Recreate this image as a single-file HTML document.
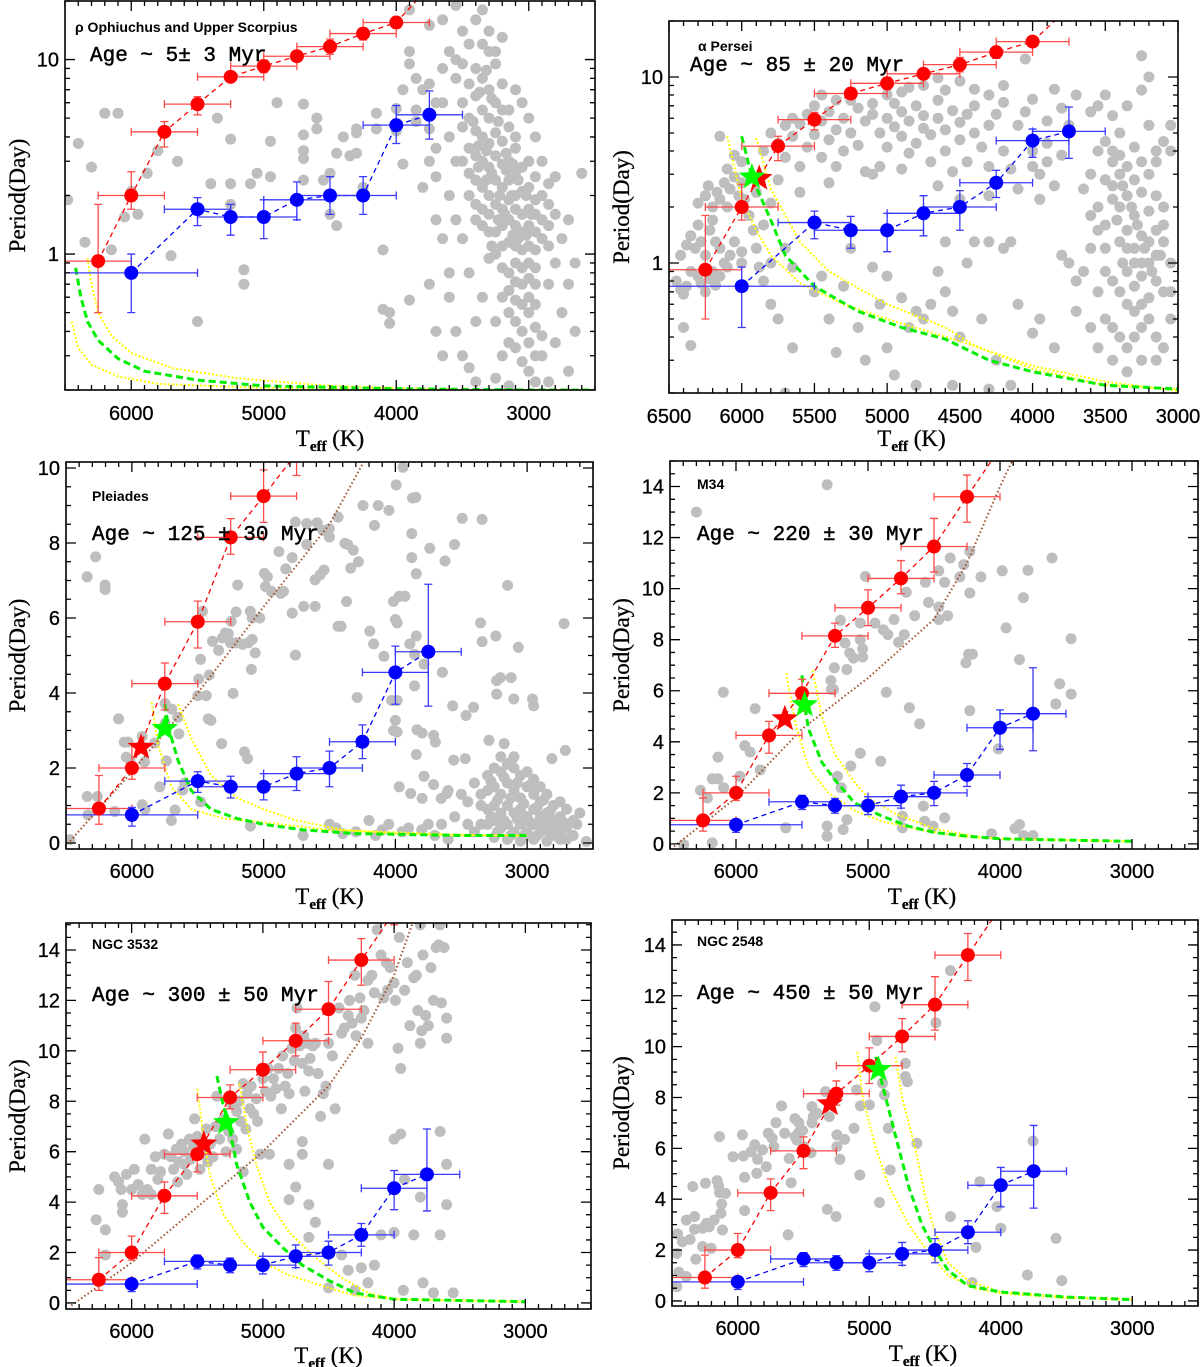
<!DOCTYPE html>
<html><head><meta charset="utf-8"><style>
html,body{margin:0;padding:0;background:#fff}
svg{display:block}
text{font-family:"Liberation Sans",sans-serif;fill:#000}
.tl{font-size:20px;stroke:#000;stroke-width:0.3}
.ttl{font-family:"Liberation Serif",serif;font-size:23px;stroke:#000;stroke-width:0.3}
.nm{font-size:14px;font-weight:bold}
.age{font-family:"Liberation Mono",monospace;font-size:21px;stroke:#000;stroke-width:0.5}
</style></head><body>
<svg id="fig" width="1200" height="1367" viewBox="0 0 1200 1367" xmlns="http://www.w3.org/2000/svg"></svg>
<script>
// ---- shared binned data ----
const redT=[6250,6000,5750,5500,5250,5000,4750,4500,4250,4000];
const redP=[0.92,2.0,4.25,5.9,8.15,9.25,10.4,11.65,13.6,15.5];
const redLo=[0.5,1.7,3.55,5.2,7.7,8.55,9.8,10.65,12.6,15.0];
const redHi=[1.8,2.65,4.8,6.45,8.65,9.95,11.1,12.75,14.45,16.1];
const redXerr=[250,250,250,250,250,250,250,250,250,250];
const blueT=[6000,5500,5250,5000,4750,4500,4250,4000,3750];
const blueP=[0.75,1.65,1.5,1.5,1.85,2.0,2.7,4.55,5.1];
const blueLo=[0.45,1.35,1.2,1.15,1.4,1.5,2.25,3.7,3.65];
const blueHi=[0.95,1.9,1.78,1.85,2.3,2.45,3.15,5.25,6.9];
const blueP1=[0.8,1.7,1.55,1.55,1.9,2.0,2.0,4.6,5.2];
const blueLo1=[0.5,1.4,1.25,1.2,1.5,1.6,1.6,3.7,3.9];
const blueHi1=[1.0,1.95,1.8,1.9,2.35,2.5,2.5,5.8,6.9];
const blueXerr=[500,250,250,250,250,250,250,250,250];
// ---- gray stars per panel [Teff,Period] ----
const gray1=[[6480,1.9],[6350,1.15],[6400,3.7],[6300,2.8],[6200,5.3],[6100,5.3],[6000,2.1],[6150,1.05],[6050,1.55],[5950,1.6],[5880,2.6],[5800,3.4],[5700,0.98],[5650,3.0],[5500,0.45],[5400,2.3],[5350,5.0],[5250,1.8],[5250,2.3],[5250,3.9],[5150,0.83],[5150,0.7],[5100,2.3],[5050,2.6],[4950,2.5],[4950,3.8],[4900,6.0],[4700,5.9],[4700,4.1],[4700,3.4],[4700,3.1],[4700,2.4],[4600,4.4],[4600,5.0],[4550,2.4],[4500,2.6],[4500,1.6],[4450,1.4],[4400,4.0],[4450,3.3],[4350,3.2],[4300,4.2],[4300,3.3],[4300,4.4],[4250,2.2],[4150,5.3],[4150,4.4],[4100,1.05],[4100,0.52],[4050,0.5],[4050,0.44],[4000,5.6],[4000,4.3],[3950,2.9],[3900,0.58],[3850,4.8],[3900,11],[3900,9.5],[3800,2.2],[3750,4.4],[3700,3.5],
[3500,14],[3450,12],[3400,16],[3350,18],[3300,11],[3400,9],[3350,8],[3450,7.5],[3300,7],[3250,9.5],[3500,6],[3400,6.5],[3350,5.5],[3300,5],[3250,6],[3200,5.5],[3450,5],[3500,4.5],[3400,4.3],[3350,4],[3300,3.7],[3250,4.2],[3200,3.8],[3150,4.5],[3450,3.5],[3400,3.2],[3350,3],[3300,2.8],[3250,3.2],[3200,2.9],[3150,3],[3100,3.5],[3500,3],[3450,2.6],[3400,2.4],[3350,2.2],[3300,2],[3250,2.4],[3200,2.2],[3150,2.4],[3100,2.6],[3050,2.8],[3000,3],[2950,2.5],[3450,2],[3400,1.8],[3350,1.7],[3300,1.6],[3250,1.8],[3200,1.7],[3150,1.9],[3100,2],[3050,2.1],[3000,2.2],[2950,1.9],[2900,2],[2850,1.8],[3100,1.7],[3050,1.6],[3000,1.7],[2950,1.6],[2900,1.5],[2850,1.4],[3000,1.4],[2950,1.3],[3050,1.3],[3100,1.4],[3150,1.5],[3200,1.4],[3250,1.3],[3300,1.3],[3350,1.4],[3400,1.5],[3200,1.1],[3150,1.15],[3100,1.1],[3050,1.05],[3000,1.1],[2950,1.05],[2900,1.2],[3250,1.0],[3300,0.95],[3100,0.9],[3050,0.85],[3000,0.9],[2950,0.85],[3150,0.8],[3200,0.85],[3000,0.75],[3050,0.7],[3100,0.72],[2950,0.7],[3150,0.65],[3000,0.6],[3100,0.58],[3050,0.55],[2950,0.55],[3200,0.6],[3000,0.5],[3100,0.45],[2950,0.42],[3050,0.4],[3150,0.5],[3000,0.35],[3100,0.33],[2900,0.38],[3050,0.28],[3000,0.25],[2950,0.3],[3150,0.35],[3250,0.45],[3200,0.3],[3350,0.6],[3400,0.45],[3450,0.8],[3500,1.2],[3550,1.5],[3600,2],[3550,3],[3600,4],[3550,8],[3500,9.5],[3600,11],[3550,10],[3650,6],[3700,2.5],[3650,1.2],[3700,0.4],[3750,0.7],[3600,0.6],[3650,0.3],[2800,1.6],[2850,2.3],[2800,2.5],[2750,1.2],[2700,1.5],[2650,0.9],[2600,2.6],[2800,0.9],[2750,0.5],[2850,0.7],[2900,3],[2950,4],[3000,5],[3050,6],[3100,7],[3150,5.5],[3200,7.5],[3250,11],[3300,14],[3350,12],[3200,13],[3100,4],[2900,0.3],[2800,0.35],[2700,0.25],[2650,0.4],[3850,8],[3800,7],[3750,7.5],[3700,6],[3650,9],[3750,15],[3650,16],[3900,18],[3550,19],[3750,3],[3850,5.5],[3950,7],[3700,1.5],[3600,0.8],[3550,0.4],[3500,0.3],[3450,0.26],[3400,0.22],[3250,0.23],[3150,0.21],[2850,1.1],[2700,0.7],[2950,0.22],[2850,0.22],
[3380,3.6],[3320,3.4],[3280,2.6],[3220,2.0],[3180,1.6],[3120,1.25],[3080,1.2],[3020,1.25],[2980,1.6],[3020,2.0],[3080,2.4],[3130,2.0],[3170,2.7],[3230,1.5],[3280,1.1],[3320,2.4],[3380,2.8],[3420,4.8],[3370,6.8],[3320,8.8],[3280,6.3],[3230,4.8],[3170,3.3],[3120,2.9]];
const gray2=[[6450,0.8],[6420,0.72],[6400,0.68],[6380,0.75],[6350,0.9],[6300,0.85],[6280,0.78],[6250,0.7],[6220,0.82],[6200,0.9],[6180,0.76],[6150,0.85],[6400,0.45],[6350,0.36],[6420,1.1],[6380,1.25],[6350,1.4],[6320,1.2],[6300,1.6],[6280,1.3],[6250,1.1],[6220,1.5],[6200,1.7],[6180,1.3],[6150,1.2],[6120,1.0],[6100,0.95],[6080,1.1],[6050,1.3],[6300,2.1],[6250,2.3],[6230,2.6],[6200,2.0],[6170,2.4],[6150,2.2],[6120,2.7],[6100,2.0],[6080,2.5],[6050,2.9],[6020,2.3],[6000,3.5],[6050,3.8],[6150,4.8],[6100,3.2],[6000,2.7],[5980,2.2],[5950,1.8],[5920,1.5],[5900,1.2],[5880,0.95],[5850,0.8],[5800,1.0],[5700,1.2],[5650,0.95],[5850,1.6],[5800,2.1],[5900,2.4],[6000,1.15],[6000,1.0],
[5850,4.0],[5800,5.0],[5750,4.4],[5700,5.5],[5700,3.7],[5650,6.0],[5650,4.8],[5600,3.3],[5600,5.6],[5550,4.2],[5550,6.3],[5500,7.0],[5500,4.9],[5450,5.8],[5450,3.7],[5400,6.5],[5400,4.6],[5350,5.2],[5350,3.3],[5300,6.0],[5300,4.0],[5250,7.5],[5250,5.0],[5200,6.8],[5200,4.3],[5150,5.8],[5150,3.1],[5100,6.3],[5100,7.2],[5050,5.0],[5050,3.3],[5000,6.0],[5000,4.2],[4950,7.2],[4950,5.4],[4900,4.8],[4900,6.5],[4850,5.8],[4850,3.9],[4800,7.0],[4800,4.4],[4750,5.3],[4750,6.2],[4700,4.9],[4700,3.5],[4650,6.0],[4650,7.5],[4600,5.2],[4600,4.0],[4550,6.6],[4550,3.1],[4500,5.7],[4500,4.6],[4450,6.3],[4450,3.5],[4400,5.0],[4400,7.0],[4350,4.2],[4300,5.5],[4300,3.3],[4250,6.3],[4200,4.0],[4200,7.3],[4150,3.2],[4100,5.5],[4050,6.5],[4000,4.0],[4000,7.6],[3950,3.0],[3900,5.8],[3900,3.5],[3850,2.6],[3800,6.8],[3800,3.8],[5000,8.0],[4900,8.3],[4750,9.0],[4600,8.5],[4500,9.5],[4300,8.0],[4200,9.0],[4050,12.5],[5100,3.0],[4900,3.2],[4650,2.6],[4500,2.2],[4300,2.3],[4100,2.5],[3950,2.2],[5400,2.7],[5600,2.4],[5750,2.8],[5450,8.0],[5350,7.5],[4850,8.8],[4650,9.9],[4400,8.6],[4000,3.3],[3900,4.4],[3850,8.6],[3700,8.0],[3600,6.5],[3750,5.5],[3550,7.0],[3500,8.0],
[5800,0.6],[5750,0.5],[5650,0.35],[5500,0.7],[5450,0.85],[5400,0.5],[5350,0.33],[5300,0.75],[5200,0.45],[5150,0.3],[5100,0.95],[5050,0.6],[5000,0.85],[4900,0.65],[4850,0.45],[4800,0.55],[4750,0.5],[4700,0.6],[4650,0.9],[4600,0.7],[4550,0.55],[4500,0.4],[4450,1.0],[4400,1.3],[4350,0.5],[4300,1.3],[4250,0.3],[4200,1.2],[4150,1.3],[4100,0.6],[4000,0.42],[3950,0.5],[3850,0.35],[3800,1.1],[3750,1.0],[3700,0.8],[3700,0.55],[3650,0.9],[3600,0.45],[4950,0.25],[4800,0.22],[4550,0.22],[4300,0.21],[4150,0.22],[5000,0.35],[5700,0.2],[4600,1.3],[5250,1.2],
[3500,4.5],[3450,4.0],[3450,3.5],[3400,3.8],[3400,3.0],[3380,2.6],[3350,3.3],[3350,2.3],[3320,2.0],[3300,2.8],[3300,1.8],[3280,1.6],[3250,2.4],[3250,1.4],[3230,1.2],[3200,1.9],[3200,1.0],[3180,0.9],[3150,1.5],[3150,0.8],[3120,1.1],[3100,0.7],[3100,1.3],[3300,1.2],[3350,1.5],[3380,1.0],[3420,1.7],[3450,2.2],[3400,1.3],[3350,0.9],[3300,0.75],[3250,0.85],[3200,0.65],[3250,0.6],[3300,0.55],[3350,0.6],[3400,0.7],[3450,0.8],[3500,1.2],[3500,0.5],[3450,0.45],[3400,0.4],[3350,0.35],[3300,0.4],[3250,0.45],[3200,0.5],[3150,0.4],[3100,0.35],[3050,0.5],[3150,0.3],[3250,0.3],[3350,0.26],[3450,0.3],[3550,0.35],[3500,2.8],[3550,2.0],[3550,1.5],[3600,1.2],[3600,1.8],[3400,5.0],[3300,4.2],[3250,3.5],[3200,3.0],[3150,2.3],[3100,2.0],[3050,1.0],[3050,0.7],[3200,5.5],[3150,4.0],[3100,4.5],[3250,8.5],[3200,10],[3250,13],[3150,3.5],[3350,7.0],[3450,6.2],[3550,4.0],[3600,3.0],[3650,2.5],[3050,4.0],[3050,5.5],[3100,1.6],[3150,1.1],[3200,1.3],[3250,1.0],[3300,1.0],[3350,1.2],[3400,2.0],[3450,2.6],[3500,1.6],[3500,0.9],[3550,0.7]];
const gray3=[[6339,7.1],[6275,7.63],[6203,6.88],[6203,6.76],[6470,0.09],[6333,0.75],[6339,1.24],[6261,1.24],[6130,0.84],[6101,3.31],[6058,2.69],[6029,2.69],[6043,2.29],[6014,2.21],[5922,2.84],[5922,1.02],[5904,2.16],[5826,2.67],[5788,1.5],[5748,3.72],[5748,3.19],[5739,2.19],[5696,3.57],[5652,3.35],[5643,2.91],[5672,0.88],[5614,1.41],[5478,1.1],[5464,6.18],[5478,4.9],[5435,3.93],[5499,3.93],[5493,4.37],[5412,4.48],[5420,3.31],[5400,3.27],[5388,5.38],[5342,5.14],[5319,2.65],[5313,5.47],[5290,5.6],[5267,5.58],[5246,5.91],[5232,3.99],[5252,5.34],[5209,6.16],[5209,5.34],[5197,6.88],[5159,5.3],[5145,2.43],[5122,2.25],[5116,5.34],[5101,6.18],[5087,6.0],[5087,5.43],[5093,4.63],[5064,5.07],[5029,6.0],[4994,7.19],[4971,7.1],[4986,6.84],[4942,6.71],[4884,7.77],[4870,6.66],[4849,6.71],[4832,7.31],[4783,7.61],[4759,8.56],[4783,6.13],[4759,5.01],[4696,6.31],[4672,8.52],[4672,7.96],[4609,6.31],[4594,8.54],[4609,7.02],[4571,7.15],[4542,7.28],[4551,8.34],[4501,8.38],[4501,8.16],[4435,8.69],[4412,5.78],[4362,7.96],[4339,7.33],[4319,7.81],[4281,7.5],[4246,9.0],[4159,8.47],[4130,9.0],[4049,8.87],[3994,9.55],[3942,10.02],[3870,9.2],[3875,8.25],[3875,7.61],[3846,9.22],[3841,7.18],[3739,7.86],[3623,7.52],[3551,7.96],[3493,8.66],[3342,8.63],[3971,6.58],[4014,6.44],[4000,5.96],[3986,5.87],[3928,6.58],[3841,5.52],[3890,5.31],[3855,5.03],[3855,4.19],[3783,4.77],[4194,5.65],[4165,5.31],[4087,4.98],[4290,3.88],[4371,6.44],[4435,5.78],[4383,7.99],[4029,3.8],[3986,3.8],[4000,3.27],[3986,2.96],[4014,3.0],[3836,3.02],[3797,2.93],[3710,2.87],[3696,2.69],[3841,2.36],[3971,1.5],[3884,1.32],[3797,1.19],[3783,1.78],[3710,1.56],[3652,1.19],[3609,1.32],[3643,4.55],[3565,3.66],[3464,3.4],[3406,3.62],[3557,2.21],[3470,2.25],[3354,5.87],[3342,5.37],[3238,5.52],[3232,4.33],[3232,3.97],[3203,4.41],[3122,4.41],[3101,3.84],[3067,5.22],[3148,6.87],[2959,3.84],[2951,3.66],[2812,2.25],[2719,5.85],[2710,2.47],[2623,0.5],[2551,0.04],[3290,2.74],[3174,2.65],[3122,2.16],
[3300,1.8],[3250,2.0],[3200,1.9],[3150,2.1],[3100,2.0],[3050,1.8],[3000,1.9],[2950,1.7],[2900,1.5],[3300,1.4],[3250,1.5],[3200,1.3],[3150,1.6],[3100,1.4],[3050,1.2],[3000,1.5],[2950,1.3],[2900,1.1],[2850,1.3],[2800,1.0],[2750,1.1],[3350,1.0],[3300,0.9],[3250,1.0],[3200,0.8],[3150,1.0],[3100,0.8],[3050,0.9],[3000,0.7],[2950,0.9],[2900,0.7],[2850,0.8],[2800,0.6],[2750,0.7],[2700,0.9],[2650,0.6],[3300,0.5],[3250,0.6],[3200,0.4],[3150,0.5],[3100,0.3],[3050,0.5],[3000,0.3],[2950,0.5],[2900,0.3],[2850,0.4],[2800,0.2],[2750,0.3],[2700,0.4],[2650,0.2],[3250,0.15],[3150,0.1],[3050,0.05],[2950,0.1],[2850,0.05],[2750,0.1],[3400,0.3],[3350,0.5],[3450,1.1],[3400,1.6],[3200,2.3],[3100,2.3],[2600,0.8],[2700,0.1],[3500,1.3],[3450,0.5],[3550,0.7],[3350,1.3],[3600,1.4],
[3275,1.65],[3175,1.75],[3075,1.6],[2975,1.55],[2875,1.15],[3225,1.15],[3125,1.2],[3025,1.05],[2925,0.95],[2825,0.85],[3275,0.7],[3175,0.6],[3075,0.65],[2975,0.55],[2875,0.55],[2775,0.45],[3225,0.3],[3125,0.2],[3025,0.2],[2925,0.2],[2825,0.25],[2725,0.55],
[4700,0.2],[4500,0.5],[4450,0.4],[4300,0.3],[4200,0.6],[4100,0.35],[4050,0.5],[3950,0.3],[3900,0.4],[3800,0.35],[3750,0.5],[3650,0.5],[4400,0.25],[4150,0.2],[3700,0.2],[3600,0.1],[5900,0.9],[5700,0.6],[5600,1.6],[5100,0.45]];
const gray4=[[6300,13],[5310,14.07],[6096,5.94],[5855,5.3],[5933,3.85],[5893,3.6],[5817,2.9],[6136,3.4],[6180,2.55],[6136,2.55],[6093,2.2],[6270,2.1],[6217,1.8],[5971,2.65],[6180,0.04],[6397,-0.03],[5623,0.63],[5310,0.7],[5310,0.3],[5188,0.56],[5160,0.95],[5203,2.2],[5232,2.65],[5130,3.05],[5058,3.55],[4904,3.24],[5278,6.05],[5281,6.4],[5255,6.9],[5160,6.83],[5261,6.05],[5174,7.87],[5139,7.48],[5110,7.28],[5058,8.0],[5041,7.64],[5041,7.32],[5058,8.65],[5209,8.76],[5020,10.48],[4948,8.65],[4884,8.39],[4849,8.2],[4803,8.79],[4768,7.9],[4725,8.2],[4710,9.86],[4646,8.94],[4542,9.46],[4464,9.28],[4464,8.79],[4397,8.94],[4565,10.25],[4464,10.7],[4420,10.25],[4377,11.2],[4275,10.94],[4304,10.46],[4229,11.46],[4229,9.83],[4145,10.46],[4258,7.09],[4238,7.43],[4209,7.43],[4229,5.22],[4687,5.33],[4609,4.7],[4861,5.94],[4580,1.48],[4571,0.89],[4420,1.02],[4507,0.69],[4739,1.08],[4739,0.63],[4064,0.4],[4012,3.72],[3983,10.7],[3954,8.46],[3852,7.22],[3823,9.65],[3788,10.72],[3606,11.2],[3548,6.27],[3577,5.48],[3461,5.87],[3461,8.04],[3887,0.6],[3852,0.76],[3823,0.33],[3751,0.33]];
const gray5=[[6270,3.3],[6250,4.5],[6200,2.9],[6200,1.9],[6130,5.0],[6100,4.8],[6080,4.5],[6070,3.9],[6070,3.6],[6040,5.1],[6000,4.5],[5980,5.3],[5950,4.7],[5920,4.3],[5900,6.5],[5880,4.5],[5850,5.3],[5850,4.3],[5820,5.8],[5800,4.9],[5780,5.2],[5760,4.3],[5750,5.9],[5720,6.7],[5700,5.8],[5680,5.3],[5660,6.1],[5650,4.8],[5640,5.6],[5620,6.3],[5600,5.5],[5600,6.0],[5580,5.1],[5560,6.5],[5550,5.7],[5530,6.2],[5520,7.3],[5500,6.6],[5480,5.3],[5470,5.9],[5450,6.1],[5430,6.9],[5420,5.6],[5400,6.3],[5380,5.8],[5360,7.0],[5350,8.2],[5330,6.5],[5300,7.3],[5280,6.0],[5260,6.8],[5240,7.9],[5230,6.5],[5200,7.6],[5180,8.0],[5170,7.2],[5150,8.7],[5130,6.9],[5120,8.3],[5100,7.7],[5090,8.6],[5070,7.5],[5050,8.1],[5040,7.2],[5020,5.9],[5000,8.9],[4980,8.4],[4960,9.3],[4940,8.2],[4920,8.9],[4900,8.5],[4880,9.3],[4860,7.7],[4850,9.8],[4830,8.6],[4810,9.1],[4800,8.3],[4780,10.1],[4760,9.6],[4750,10.9],[4740,11.7],[4720,10.2],[4700,9.5],[4690,10.6],[4680,8.4],[4660,10.3],[4650,9.2],[4640,9.7],[4620,10.2],[4600,10.3],[4580,9.1],[4560,7.4],[4540,8.3],[4520,8.6],[4500,10.3],[4500,5.5],[4470,9.8],[4450,7.7],[4420,11.7],[4400,10.7],[4380,10.9],[4350,11.4],[4340,12.0],[4320,11.1],[4300,13.0],[4290,10.6],[4260,12.1],[4250,11.3],[4230,11.6],[4200,10.3],[4200,12.8],[4170,13.0],[4150,12.3],[4130,14.8],[4100,13.8],[4080,12.1],[4060,13.5],[4050,12.4],[4030,13.3],[4000,12.7],[3990,12.0],[3970,10.1],[3960,14.5],[3950,9.3],[3920,12.4],[3900,13.5],[3880,11.0],[3850,12.9],[3830,13.0],[3820,11.6],[3800,10.3],[3790,10.8],[3780,13.8],[3760,11.4],[3740,11.0],[3720,13.3],[3700,12.0],[3680,14.1],[3660,14.2],[3640,11.9],[3620,14.1],[3600,10.5],[3600,11.3],[3800,15.0],[3650,15.0],
[5200,6.1],[5150,5.2],[4950,5.9],[4800,5.5],[4750,4.6],[4700,6.4],[4700,5.9],[4800,4.1],[4650,3.9],[4600,3.2],[4650,2.6],[4350,1.3],[4300,0.5],[4250,1.4],[4400,1.9],[4500,0.6],[4200,0.8],[4150,1.5],[4000,2.8],[4100,2.7],[4000,6.5],[3950,6.7],[3850,2.7],[3800,4.2],[3780,0.8],[3700,0.4],[3650,6.8],[3650,2.7],[3600,3.9],[3600,5.5],[3550,0.4],[3930,0.5],[3920,4.9]];
const gray6=[[6458,2.63],[6449,1.13],[6464,0.56],[6391,3.18],[6362,2.42],[6342,4.5],[6328,3.32],[6328,2.82],[6319,1.64],[6267,2.14],[6246,4.63],[6238,3.05],[6267,2.86],[6217,2.92],[6203,2.07],[6180,3.18],[6139,6.46],[6157,4.73],[6145,4.52],[6139,4.26],[6093,4.23],[6122,3.81],[6128,3.45],[6116,2.79],[6035,5.67],[5965,6.53],[5957,5.7],[5948,4.86],[5948,3.55],[5899,5.87],[5870,6.14],[5855,5.02],[5849,5.57],[5812,5.94],[5783,5.28],[5768,6.59],[5739,6.4],[5725,6.07],[5710,7.01],[5667,7.67],[5643,6.59],[5617,2.6],[5594,4.65],[5609,5.6],[5565,7.17],[5565,6.46],[5536,7.01],[5551,6.33],[5536,6.62],[5507,6.7],[5499,6.07],[5443,5.83],[5435,7.64],[5426,7.25],[5435,7.01],[5397,7.38],[5333,8.23],[5319,3.6],[5304,7.25],[5252,3.32],[5246,6.53],[5246,6.07],[5223,5.57],[5188,6.35],[5116,6.79],[5096,8.3],[5072,4.95],[5067,7.67],[4999,7.71],[4957,11.57],[4942,10.24],[4922,3.87],[4899,8.56],[4884,8.1],[4855,6.79],[4841,5.15],[4725,9.34],[4725,8.82],[4710,8.62],[4638,6.2],[4493,10.94],[4383,12.99],[4383,3.32],[4188,2.11],[4217,0.72],[4159,4.69],[4029,3.71],[4000,2.86],[3797,1.02],[3754,6.29],[3580,2.46],[3536,0.8],[6464,1.87],[6391,0.96],[6420,2.33]];
// ---- model curves per panel ----
const green1=[[6420,0.85],[6380,0.6],[6330,0.45],[6250,0.36],[6100,0.29],[5900,0.25],[5500,0.225],[5000,0.21],[4000,0.203],[3000,0.2],[2500,0.2]];
const yelA1=[[6330,0.95],[6300,0.7],[6250,0.5],[6150,0.38],[6000,0.31],[5700,0.26],[5200,0.23],[4500,0.21],[3500,0.2],[2500,0.2]];
const yelB1=[[6450,0.45],[6400,0.33],[6300,0.27],[6100,0.235],[5800,0.215],[5000,0.205],[4000,0.2],[2500,0.2]];
const green2=[[6000,4.8],[5930,2.9],[5800,1.7],[5700,1.1],[5500,0.75],[5200,0.55],[4900,0.45],[4600,0.39],[4300,0.3],[4000,0.26],[3500,0.22],[3000,0.21]];
const yelA2=[[5900,4.7],[5800,2.5],[5600,1.3],[5400,0.9],[5000,0.6],[4600,0.45],[4400,0.36],[4000,0.27],[3500,0.22],[3000,0.21]];
const yelB2=[[6100,4.8],[6000,2.2],[5900,1.5],[5800,1.1],[5600,0.78],[5300,0.6],[5000,0.5],[4500,0.38],[4000,0.28],[3500,0.23],[3000,0.205]];
const green3=[[5750,3.7],[5720,3.05],[5650,2.2],[5550,1.4],[5400,0.9],[5200,0.65],[5000,0.5],[4700,0.35],[4300,0.25],[3500,0.2],[3000,0.2]];
const yelA3=[[5850,3.75],[5800,2.6],[5700,1.5],[5550,0.9],[5300,0.65],[5000,0.55],[4500,0.35],[3500,0.22],[3000,0.2]];
const yelB3=[[5650,3.7],[5550,2.8],[5400,1.8],[5200,1.2],[5000,0.9],[4750,0.6],[4400,0.35],[4000,0.25],[3500,0.2],[3000,0.2]];
const brown3=[[6470,0.05],[6000,1.9],[5500,4.0],[5000,6.3],[4500,8.5],[4250,10.1]];
const green4=[[5500,6.6],[5480,5.4],[5450,4.5],[5350,3.2],[5250,2.5],[5100,1.6],[4900,1.1],[4700,0.7],[4500,0.45],[4250,0.3],[4000,0.2],[3000,0.1]];
const yelA4=[[5620,6.7],[5550,4.7],[5450,3.0],[5300,2.0],[5100,1.3],[4900,0.9],[4600,0.55],[4300,0.3],[4000,0.2],[3000,0.1]];
const yelB4=[[5420,6.8],[5350,5.0],[5250,3.5],[5100,2.4],[5000,1.8],[4800,1.2],[4500,0.6],[4200,0.3],[4000,0.2],[3000,0.1]];
const brown4=[[6470,-0.1],[6000,1.8],[5500,4.5],[5000,6.5],[4500,8.8],[4250,11],[4000,14],[3890,15.2]];
const green5=[[5350,9.0],[5300,7.8],[5250,6.8],[5200,5.5],[5100,4.0],[5000,3.0],[4850,2.2],[4700,1.5],[4500,0.9],[4300,0.4],[4000,0.15],[3000,0.05]];
const yelA5=[[5500,8.5],[5450,6.5],[5400,5.0],[5300,3.5],[5150,2.4],[5000,1.6],[4800,1.1],[4500,0.6],[4300,0.3],[4000,0.15],[3000,0.05]];
const yelB5=[[5180,8.7],[5120,7.0],[5050,5.5],[4950,4.0],[4800,2.8],[4600,1.8],[4400,1.0],[4200,0.4],[4000,0.15],[3000,0.05]];
const brown5=[[6460,-0.1],[6000,1.6],[5500,3.8],[5000,6.0],[4500,8.6],[4250,10.5],[4000,13],[3850,15.2]];
const green6=[[4950,9.6],[4900,8.5],[4800,6.5],[4700,4.5],[4600,3.0],[4500,2.0],[4400,1.2],[4250,0.6],[4000,0.35],[3500,0.15],[3000,0.05]];
const yelA6=[[5090,9.8],[5050,8.0],[4950,6.0],[4850,4.5],[4700,3.0],[4550,1.9],[4400,1.0],[4200,0.5],[4000,0.3],[3500,0.12],[3000,0.05]];
const yelB6=[[4800,9.6],[4750,8.0],[4650,6.0],[4570,4.0],[4500,2.7],[4400,1.5],[4250,0.8],[4000,0.35],[3500,0.15],[3000,0.05]];
// stars [Teff,P]
const redStar=[null,[5880,2.85],[5930,2.55],[5630,4.9],[5450,6.3],[5300,7.75]];
const greenStar=[null,[5930,2.9],[5750,3.05],[5480,5.45],[5280,7.15],[4930,9.1]];
// tick labels
const xTicks1=[6000,5000,4000,3000];
const xTicks2=[6500,6000,5500,5000,4500,4000,3500,3000];
const yTicksLog=[1,10];
const yTicks3=[0,2,4,6,8,10];
const yTicks15=[0,2,4,6,8,10,12,14];

const NS='http://www.w3.org/2000/svg';
const svg=document.getElementById('fig');
function mk(tag,attrs,parent){const e=document.createElementNS(NS,tag);for(const k in attrs)e.setAttribute(k,attrs[k]);(parent||svg).appendChild(e);return e;}

const panels=[
 {name:'ρ Ophiuchus and Upper Scorpius',age:'Age ~ 5± 3 Myr',box:[65,1,595,390],xd:[6500,2500],yd:[0.2,20],log:true,xt:xTicks1,xmaj:1000,yt:yTicksLog,gray:gray1,green:green1,ya:yelA1,yb:yelB1,blue:[blueP1,blueLo1,blueHi1],nmPos:[75,32],agePos:[90,61],xl:420,xtitle:446},
 {name:'α Persei',age:'Age ~ 85 ± 20 Myr',box:[669,21,1178,393],xd:[6500,3000],yd:[0.2,20],log:true,xt:xTicks2,xmaj:500,yt:yTicksLog,gray:gray2,green:green2,ya:yelA2,yb:yelB2,nmPos:[698,51],agePos:[690,71],xl:423,xtitle:446},
 {name:'Pleiades',age:'Age ~ 125 ± 30 Myr',box:[66,462,593,849],xd:[6500,2500],yd:[-0.16,10.16],log:false,xt:xTicks1,xmaj:1000,yt:yTicks3,ymin:0.5,gray:gray3,green:green3,ya:yelA3,yb:yelB3,brown:brown3,nmPos:[92,501],agePos:[92,540],xl:878,xtitle:904},
 {name:'M34',age:'Age ~ 220 ± 30 Myr',box:[670,461,1198,849],xd:[6500,2500],yd:[-0.2,15],log:false,xt:xTicks1,xmaj:1000,yt:yTicks15,ymin:0.5,gray:gray4,green:green4,ya:yelA4,yb:yelB4,brown:brown4,nmPos:[697,489],agePos:[697,540],xl:878,xtitle:904},
 {name:'NGC 3532',age:'Age ~ 300 ± 50 Myr',box:[66,923,591,1309],xd:[6500,2500],yd:[-0.24,15.07],log:false,xt:xTicks1,xmaj:1000,yt:yTicks15,ymin:0.5,gray:gray5,green:green5,ya:yelA5,yb:yelB5,brown:brown5,nmPos:[92,949],agePos:[92,1001],xl:1338,xtitle:1363},
 {name:'NGC 2548',age:'Age ~ 450 ± 50 Myr',box:[672,920,1198,1306],xd:[6500,2500],yd:[-0.2,14.98],log:false,xt:xTicks1,xmaj:1000,yt:yTicks15,ymin:0.5,gray:gray6,green:green6,ya:yelA6,yb:yelB6,nmPos:[697,946],agePos:[697,999],xl:1335,xtitle:1361}
];

function star(g,cx,cy,R,fill){
  let pts=[];for(let i=0;i<10;i++){const r=i%2?R*0.42:R;const a=-Math.PI/2+i*Math.PI/5;pts.push((cx+r*Math.cos(a)).toFixed(1)+','+(cy+r*Math.sin(a)).toFixed(1));}
  return mk('polygon',{points:pts.join(' '),fill:fill},g);
}

panels.forEach((p,pi)=>{
  const [x0,y0,x1,y1]=p.box;
  const g=mk('g',{});
  
  
  const X=t=>x0+(p.xd[0]-t)/(p.xd[0]-p.xd[1])*(x1-x0);
  const Y=p.log?(v=>y1-(Math.log10(v)-Math.log10(p.yd[0]))/(Math.log10(p.yd[1])-Math.log10(p.yd[0]))*(y1-y0))
               :(v=>y1-(v-p.yd[0])/(p.yd[1]-p.yd[0])*(y1-y0));
  const cid='clip'+pi;
  const cp=mk('clipPath',{id:cid},g);mk('rect',{x:x0,y:y0,width:x1-x0,height:y1-y0},cp);
  const pl=mk('g',{'clip-path':'url(#'+cid+')'},g);
  
  
  const gg=mk('g',{fill:'#bebebe'},pl);
  
  
  p.gray.forEach(d=>{if(p.log&&d[1]<=0)return;const c=mk('circle',{cx:X(d[0]).toFixed(1),cy:Y(d[1]).toFixed(1),r:5.5},gg);
    
    });
  const pathOf=arr=>arr.filter(d=>!p.log||d[1]>0).map((d,i)=>(i?'L':'M')+X(d[0]).toFixed(1)+','+Y(d[1]).toFixed(1)).join(' ');
  if(p.brown){const b=mk('path',{d:pathOf(p.brown),fill:'none',stroke:'#a0522d','stroke-width':2,'stroke-dasharray':'1.5,2.5'},pl);
    
    }
  [p.ya,p.yb].forEach(a=>{const y=mk('path',{d:pathOf(a),fill:'none',stroke:'#ffff00','stroke-width':2,'stroke-dasharray':'2,2'},pl);
    
    });
  const gr=mk('path',{d:pathOf(p.green),fill:'none',stroke:'#00ee00','stroke-width':3,'stroke-dasharray':'7,4'},pl);
  
  
  const rl=redT.map((t,i)=>[t,redP[i]]);rl.push([3850,20]);
  const rline=mk('path',{d:pathOf(rl),fill:'none',stroke:'#ff0000','stroke-width':1.3,'stroke-dasharray':'5,4'},pl);
  
  
  const bP=p.blue?p.blue[0]:blueP,bLo=p.blue?p.blue[1]:blueLo,bHi=p.blue?p.blue[2]:blueHi;
  const bl=blueT.map((t,i)=>[t,bP[i]]);
  const bline=mk('path',{d:pathOf(bl),fill:'none',stroke:'#0000ff','stroke-width':1.3,'stroke-dasharray':'5,4'},pl);
  
  
  function errs(T,P,Lo,Hi,Xe,col,nm){
    T.forEach((t,i)=>{
      const cx=X(t),cy=Y(P[i]),xa=X(t+Xe[i]),xb=X(t-Xe[i]),ya=Y(Lo[i]),yb=Y(Hi[i]);
      const e=mk('path',{d:`M${xa},${cy}H${xb}M${xa},${cy-4}V${cy+4}M${xb},${cy-4}V${cy+4}M${cx},${ya}V${yb}M${cx-4},${ya}H${cx+4}M${cx-4},${yb}H${cx+4}`,stroke:col,'stroke-width':1.3,fill:'none'},pl);
      
      
    });
  }
  errs(redT,redP,redLo,redHi,redXerr,'#ff4a4a','red');
  errs(blueT,bP,bLo,bHi,blueXerr,'#3a3aff','blue');
  redT.forEach((t,i)=>{const c=mk('circle',{cx:X(t),cy:Y(redP[i]),r:7,fill:'#ff0000'},pl);
    
    });
  blueT.forEach((t,i)=>{const c=mk('circle',{cx:X(t),cy:Y(bP[i]),r:7,fill:'#0000ff'},pl);
    
    });
  if(redStar[pi]){const s=star(pl,X(redStar[pi][0]),Y(redStar[pi][1]),14,'#ff0000');
    
    }
  if(greenStar[pi]){const s=star(pl,X(greenStar[pi][0]),Y(greenStar[pi][1]),14,'#00ff00');
    
    }
  const fr=mk('rect',{x:x0,y:y0,width:x1-x0,height:y1-y0,fill:'none',stroke:'#000','stroke-width':1.6},g);
  
  
  let td='';
  for(let t=p.xd[0];t>=p.xd[1];t-=100){const x=X(t);const L=(Math.round(t)%p.xmaj===0)?10:5;td+=`M${x},${y1}v${-L}M${x},${y0}v${L}`;}
  if(p.log){for(let dec=0.1;dec<=10;dec*=10){for(let m=1;m<10;m++){const v=dec*m;if(v<p.yd[0]||v>p.yd[1])continue;const y=Y(v);const L=m===1?10:5;td+=`M${x0},${y}h${L}M${x1},${y}h${-L}`;}}}
  else{for(let v=0;v<=p.yd[1]+0.001;v+=p.ymin){const y=Y(v);const L=(Math.abs(v%2)<0.01)?10:5;td+=`M${x0},${y}h${L}M${x1},${y}h${-L}`;}}
  const tk=mk('path',{d:td,stroke:'#000','stroke-width':1.3,fill:'none'},g);
  
  
  p.xt.forEach(t=>{const tx=mk('text',{x:X(t),y:p.xl,'text-anchor':'middle',class:'tl'},g);tx.textContent=t;
    
    });
  p.yt.forEach(v=>{const tx=mk('text',{x:x0-6,y:Y(v)+7,'text-anchor':'end',class:'tl'},g);tx.textContent=v;
    
    });
  const cxm=(x0+x1)/2+(pi%2?-12:0);
  const xt=mk('text',{x:cxm,y:p.xtitle,'text-anchor':'middle',class:'ttl'},g);
  xt.innerHTML='T<tspan font-size="15" dy="5" font-weight="bold">eff</tspan><tspan dy="-5"> (K)</tspan>';
  
  
  const ycx=pi%2?622:18, ycy=(y0+y1)/2;
  const yt=mk('text',{x:ycx,y:ycy,'text-anchor':'middle',class:'ttl',transform:`rotate(-90 ${ycx} ${ycy})`,dy:7},g);
  yt.textContent='Period(Day)';
  
  
  const nm=mk('text',{x:p.nmPos[0],y:p.nmPos[1],class:'nm'},g);nm.textContent=p.name;
  
  
  const ag=mk('text',{x:p.agePos[0],y:p.agePos[1],class:'age'},g);ag.textContent=p.age;
  
  
});
</script>
</body></html>
